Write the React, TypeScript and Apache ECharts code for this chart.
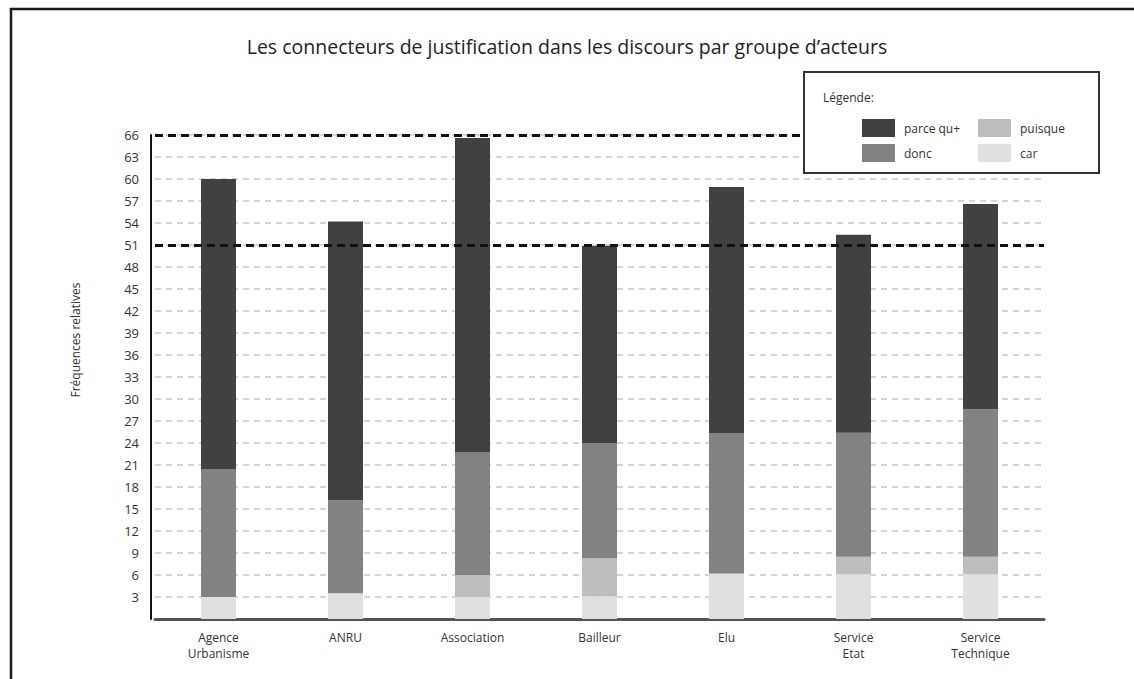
import React, { useEffect, useRef } from "react";
import * as echarts from "echarts";

const title = "Les connecteurs de justification dans les discours par groupe d\u2019acteurs";
const yAxisTitle = "Fréquences relatives";
const categories = ["Agence Urbanisme", "ANRU", "Association", "Bailleur", "Elu", "Service Etat", "Service Technique"];
const carValues = [3.0, 3.5, 3.0, 3.1, 6.2, 6.1, 6.1];
const puisqueValues = [0, 0, 3.0, 5.2, 0, 2.4, 2.4];
const doncValues = [17.4, 12.7, 16.7, 15.7, 19.1, 16.9, 20.1];
const parceValues = [39.6, 38.0, 42.9, 26.9, 33.6, 27.0, 28.0];
const referenceLines = [66, 51];

const FONT = "'Open Sans', 'Noto Sans', sans-serif";

export default function App() {
  const ref = useRef<HTMLDivElement>(null);
  useEffect(() => {
    if (!ref.current) return;
    const chart = echarts.init(ref.current, null, { renderer: "svg" });
    const barWidth = 35;
    const mk = (name: string, data: number[], color: string, extra: any = {}) => ({
      name,
      type: "bar",
      stack: "total",
      barWidth,
      data,
      itemStyle: { color },
      emphasis: { disabled: true },
      ...extra,
    });
    const legendBase = {
      orient: "vertical",
      top: 114,
      itemWidth: 33,
      itemHeight: 18,
      itemGap: 7,
      icon: "rect",
      z: 300,
      zlevel: 0,
      textStyle: { color: "#333", fontSize: 12, fontFamily: FONT, padding: [0, 0, 0, 4] },
      selectedMode: false,
    };
    chart.setOption({
      animation: false,
      backgroundColor: "#ffffff",
      textStyle: { fontFamily: FONT },
      title: {
        text: title,
        left: 562,
        top: 31,
        textAlign: "center",
        textStyle: { fontSize: 19.5, fontWeight: "normal", color: "#222", fontFamily: FONT },
      },
      grid: { left: 155, top: 135, width: 889, height: 484 },
      xAxis: {
        type: "category",
        data: categories,
        axisLine: { lineStyle: { color: "#555", width: 3 } },
        axisTick: { show: false },
        axisLabel: {
          color: "#333",
          fontSize: 12,
          lineHeight: 16,
          margin: 10,
          fontFamily: FONT,
          formatter: (v: string) => v.replace(" ", "\n"),
        },
      },
      yAxis: {
        type: "value",
        min: 0,
        max: 66,
        interval: 3,
        offset: 4,
        axisLine: { show: true, lineStyle: { color: "#111", width: 2 } },
        axisTick: { show: false },
        axisLabel: {
          color: "#333",
          fontSize: 13,
          margin: 12,
          fontFamily: FONT,
          showMinLabel: false,
          formatter: (v: number) => (v === 0 ? "" : String(v)),
        },
        splitLine: { show: true, lineStyle: { color: "#c8c8c8", width: 1.5, type: [6, 5] } },
      },
      legend: [
        { ...legendBase, left: 857, data: ["parce qu+", "donc"] },
        { ...legendBase, left: 973, data: ["puisque", "car"] },
      ],
      graphic: [
        { type: "line", shape: { x1: 10, y1: 9, x2: 1134, y2: 9 }, style: { stroke: "#1a1a1a", lineWidth: 2.5 } },
        { type: "line", shape: { x1: 11, y1: 8, x2: 11, y2: 679 }, style: { stroke: "#1a1a1a", lineWidth: 2.5 } },
        {
          type: "rect",
          z: 100,
          shape: { x: 804, y: 72, width: 295, height: 101 },
          style: { fill: "#ffffff", stroke: "#333", lineWidth: 2 },
        },
        {
          type: "text",
          z: 101,
          x: 823,
          y: 97,
          style: { text: "Légende:", fill: "#333", fontSize: 12, fontFamily: FONT, textVerticalAlign: "middle" },
        },
        {
          type: "text",
          x: 75,
          y: 340,
          rotation: Math.PI / 2,
          style: {
            text: yAxisTitle,
            fill: "#333",
            fontSize: 12,
            fontFamily: FONT,
            textAlign: "center",
            textVerticalAlign: "middle",
          },
        },
      ],
      series: [
        mk("car", carValues, "#e0e0e0"),
        mk("puisque", puisqueValues, "#bdbdbd"),
        mk("donc", doncValues, "#828282"),
        mk("parce qu+", parceValues, "#414141", {
          markLine: {
            silent: true,
            symbol: "none",
            label: { show: false },
            lineStyle: { color: "#111", width: 3, type: [8, 5] },
            data: referenceLines.map((v) => ({ yAxis: v })),
          },
        }),
      ],
    });
    return () => chart.dispose();
  }, []);
  return (
    <div
      ref={ref}
      style={{ position: "absolute", left: 0, top: 0, width: 1134, height: 679 }}
    />
  );
}
